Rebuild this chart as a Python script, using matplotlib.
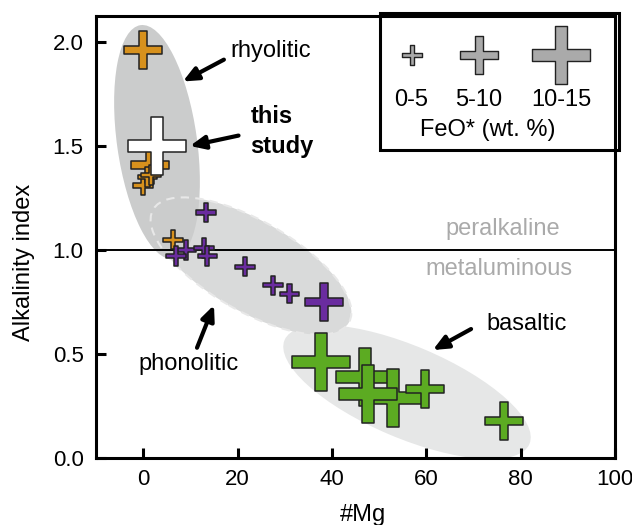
import matplotlib
matplotlib.use("Agg")
import matplotlib.pyplot as plt
from matplotlib.path import Path
from matplotlib.patches import Ellipse, Rectangle

plt.rcParams['font.family'] = ['Liberation Sans', 'DejaVu Sans']

# rhyolitic glasses (orange)
rhy_mg = [0.0, 1.5, 0.0, 0.9, 1.7, 6.3]
rhy_ai = [1.96, 1.41, 1.31, 1.35, 1.36, 1.05]
rhy_feo = ['5-10', '5-10', '0-5', '0-5', '0-5', '0-5']

# phonolitic glasses (purple)
pho_mg = [13.3, 9.0, 7.0, 12.9, 13.6, 21.6, 27.5, 31.0, 38.3]
pho_ai = [1.18, 1.00, 0.97, 1.01, 0.97, 0.92, 0.83, 0.79, 0.75]
pho_feo = ['0-5', '0-5', '0-5', '0-5', '0-5', '0-5', '0-5', '0-5', '5-10']

# basaltic glasses (green)
bas_mg = [37.7, 47.0, 52.9, 47.6, 59.8, 76.5]
bas_ai = [0.46, 0.39, 0.29, 0.31, 0.33, 0.18]
bas_feo = ['10-15', '10-15', '10-15', '10-15', '5-10', '5-10']

# this study
our_mg = [2.9]
our_ai = [1.50]
our_feo = ['10-15']

feo_classes = ['0-5', '5-10', '10-15']
feo_size = {'0-5': 200, '5-10': 760, '10-15': 1800}

xticks = [0, 20, 40, 60, 80, 100]
yticks = [0.0, 0.5, 1.0, 1.5, 2.0]

# plus-shaped marker with thick arms
t = 0.21
cross = Path([(-t, 1), (t, 1), (t, t), (1, t), (1, -t), (t, -t), (t, -1),
              (-t, -1), (-t, -t), (-1, -t), (-1, t), (-t, t), (-t, 1)],
             closed=True)

fig = plt.figure(figsize=(6.32, 5.25), dpi=100)
ax = fig.add_axes([0.152, 0.1276, 0.821, 0.842])
ax.set_xlim(-10, 100)
ax.set_ylim(0, 2.125)

# field ellipses, sized in inches on the page
def field(cx, cy, w, h, ang, fc, **kw):
    e = Ellipse((cx / 100, (525 - cy) / 100), w / 100, h / 100, angle=ang,
                transform=fig.dpi_scale_trans, facecolor=fc, **kw)
    ax.add_patch(e)
    return e

field(407, 392, 266, 92, -23, '#e6e7e7', ec='none', zorder=1)
field(251, 266, 226, 90, -30, '#d9dada', ec='none', zorder=1)
field(157, 142, 80, 236, 8, '#cbcccc', ec='none', zorder=2)
field(251, 266, 226, 90, -30, 'none', ec='#e8e8e8', lw=1.5,
      ls=(0, (4, 3)), zorder=2.5)

ax.axhline(1.0, color='black', lw=1.4, zorder=3)

def crosses(xs, ys, feo, color):
    ax.scatter(xs, ys, s=[feo_size[f] for f in feo], marker=cross,
               facecolor=color, edgecolor='#222222', linewidth=1.1, zorder=4)

crosses(rhy_mg, rhy_ai, rhy_feo, '#d7911d')
crosses(pho_mg, pho_ai, pho_feo, '#6a2c9f')
for i in range(len(bas_mg)):
    crosses(bas_mg[i:i + 1], bas_ai[i:i + 1], bas_feo[i:i + 1], '#5cab22')
crosses(our_mg, our_ai, our_feo, 'white')

# labels and arrows
fs = 17
ax.text(27.1, 1.955, 'rhyolitic', fontsize=fs, ha='center', va='center')
ax.text(22.7, 1.57, 'this\nstudy', fontsize=fs, fontweight='bold',
        ha='left', va='center', linespacing=1.4)
ax.text(76.2, 1.0 + 0.10, 'peralkaline', fontsize=fs, color='#aaaaaa',
        ha='center', va='center')
ax.text(75.4, 1.0 - 0.09, 'metaluminous', fontsize=fs, color='#aaaaaa',
        ha='center', va='center')
ax.text(9.7, 0.45, 'phonolitic', fontsize=fs, ha='center', va='center')
ax.text(81.3, 0.645, 'basaltic', fontsize=fs, ha='center', va='center')

arrow = dict(arrowstyle='-|>,head_length=0.9,head_width=0.4', color='black',
             lw=3.0, shrinkA=0, shrinkB=0)
ax.annotate('', xy=(8.4, 1.81), xytext=(17.1, 1.915), arrowprops=arrow)
ax.annotate('', xy=(9.9, 1.50), xytext=(20.2, 1.55), arrowprops=arrow)
ax.annotate('', xy=(15.0, 0.735), xytext=(11.4, 0.53), arrowprops=arrow)
ax.annotate('', xy=(61.4, 0.519), xytext=(69.5, 0.62), arrowprops=arrow)

# FeO* size key
ax.add_patch(Rectangle((0.547, 0.697), 0.46, 0.31, transform=ax.transAxes,
                       facecolor='white', edgecolor='black', lw=2.2,
                       zorder=5, clip_on=False))
key_x = [0.608, 0.738, 0.896]
for kx, f in zip(key_x, feo_classes):
    ax.scatter([kx], [0.912], s=feo_size[f], marker=cross, facecolor='#aaaaaa',
               edgecolor='#222222', linewidth=1.0, transform=ax.transAxes,
               zorder=6, clip_on=False)
    ax.text(kx, 0.81, f, fontsize=fs, ha='center', va='center',
            transform=ax.transAxes, zorder=6)
ax.text(0.755, 0.742, 'FeO* (wt. %)', fontsize=fs, ha='center', va='center',
        transform=ax.transAxes, zorder=6)

ax.set_xticks(xticks)
ax.set_yticks(yticks)
ax.set_yticklabels([f'{v:.1f}' for v in yticks])
ax.tick_params(direction='in', length=7, width=2.2, labelsize=16)
ax.tick_params(axis='y', pad=9)
ax.tick_params(axis='x', pad=8)
for s in ax.spines.values():
    s.set_linewidth(2.2)
    s.set_zorder(7)

ax.set_xlabel('#Mg', fontsize=fs)
ax.set_ylabel('Alkalinity index', fontsize=fs)
ax.xaxis.set_label_coords(0.514, -0.103)
ax.yaxis.set_label_coords(-0.118, 0.443)

fig.savefig('out.png', dpi=100)
